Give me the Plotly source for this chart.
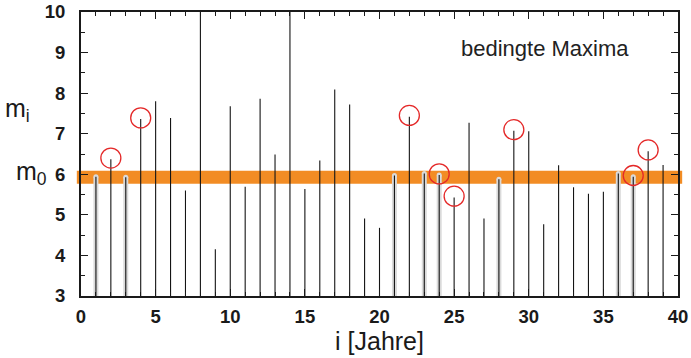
import plotly.graph_objects as go

# Data
years = list(range(1, 40))
values = [5.94, 6.37, 5.93, 7.36, 7.80, 7.39, 5.60, 10.0, 4.15, 7.68,
          5.69, 7.86, 6.49, 10.0, 5.64, 6.34, 8.09, 7.72, 4.91, 4.68,
          5.97, 7.42, 6.02, 5.98, 5.43, 7.27, 4.91, 5.88, 7.07, 7.06,
          4.77, 6.22, 5.68, 5.52, 5.57, 6.02, 5.94, 6.57, 6.23]
gray_years = [1, 3, 21, 23, 24, 28, 36, 37]
circle_years = [2, 4, 22, 24, 25, 29, 37, 38]
m0 = 5.93
base = 3
x_ticks = [0, 5, 10, 15, 20, 25, 30, 35, 40]
y_ticks = [3, 4, 5, 6, 7, 8, 9, 10]

val = dict(zip(years, values))

fig = go.Figure()

# gray highlighted bars
gx, gy = [], []
for yr in gray_years:
    gx += [yr, yr, None]
    gy += [base, val[yr], None]
fig.add_trace(go.Scatter(x=gx, y=gy, mode="lines",
                         line=dict(color="rgb(218,218,218)", width=5),
                         hoverinfo="skip", showlegend=False))
fig.add_trace(go.Scatter(x=gray_years, y=[val[g] for g in gray_years], mode="markers",
                         marker=dict(color="rgb(218,218,218)", size=5),
                         hoverinfo="skip", showlegend=False))

# black stems
bx, by = [], []
for yr, v in zip(years, values):
    bx += [yr, yr, None]
    by += [base, v, None]
fig.add_trace(go.Scatter(x=bx, y=by, mode="lines",
                         line=dict(color="rgb(20,20,20)", width=1.1),
                         hoverinfo="skip", showlegend=False))

# red circles
fig.add_trace(go.Scatter(x=circle_years, y=[val[c] + 0.03 for c in circle_years], mode="markers",
                         marker=dict(symbol="circle-open", size=20, color="rgb(228,40,40)",
                                     line=dict(color="rgb(228,40,40)", width=1.3)),
                         hoverinfo="skip", showlegend=False))

# threshold band
fig.add_shape(type="line", xref="paper", yref="y", x0=-0.007, x1=1.007, y0=m0, y1=m0,
              line=dict(color="rgb(242,140,36)", width=13), layer="below")

tickfont = dict(family="Liberation Sans, Arial", size=18.5, color="#1a1a1a")

fig.update_xaxes(range=[0, 40], tickvals=x_ticks, ticktext=[f"<b>{t}</b>" for t in x_ticks],
                 showline=True, linecolor="#1a1a1a", linewidth=2, mirror="allticks",
                 ticks="inside", ticklen=7, tickwidth=1.3, tickcolor="#1a1a1a",
                 minor=dict(dtick=1, ticks="inside", ticklen=4, tickwidth=1, tickcolor="#1a1a1a"),
                 showgrid=False, zeroline=False, tickfont=tickfont, automargin=False,
                 ticklabelstandoff=3,
                 title=dict(text="i [Jahre]", font=dict(family="Liberation Sans, Arial", size=25, color="#1a1a1a"), standoff=5))
fig.update_yaxes(range=[3, 10], tickvals=y_ticks, ticktext=[f"<b>{t}</b>" for t in y_ticks],
                 showline=True, linecolor="#1a1a1a", linewidth=2, mirror="allticks",
                 ticks="inside", ticklen=7, tickwidth=1.3, tickcolor="#1a1a1a",
                 minor=dict(dtick=0.5, ticks="inside", ticklen=4, tickwidth=1, tickcolor="#1a1a1a"),
                 showgrid=False, zeroline=False, tickfont=tickfont, automargin=False,
                 ticklabelstandoff=10)

fig.update_layout(
    width=691, height=358,
    margin=dict(l=81, r=13, t=12, b=62),
    paper_bgcolor="white", plot_bgcolor="white",
    annotations=[
        dict(text="bedingte Maxima", xref="paper", yref="paper", x=0.777, y=0.87,
             xanchor="center", yanchor="middle", showarrow=False,
             font=dict(family="Liberation Sans, Arial", size=22, color="#222")),
        dict(text="m<sub>i</sub>", xref="paper", yref="paper", x=-0.13, y=0.654,
             xanchor="left", yanchor="middle", showarrow=False,
             font=dict(family="Liberation Sans, Arial", size=25, color="#1a1a1a")),
        dict(text="m<sub>0</sub>", xref="paper", yref="y", x=-0.112, y=m0 + 0.09,
             xanchor="left", yanchor="middle", showarrow=False,
             font=dict(family="Liberation Sans, Arial", size=25, color="#1a1a1a")),
    ],
)

fig.write_html("out.html")
